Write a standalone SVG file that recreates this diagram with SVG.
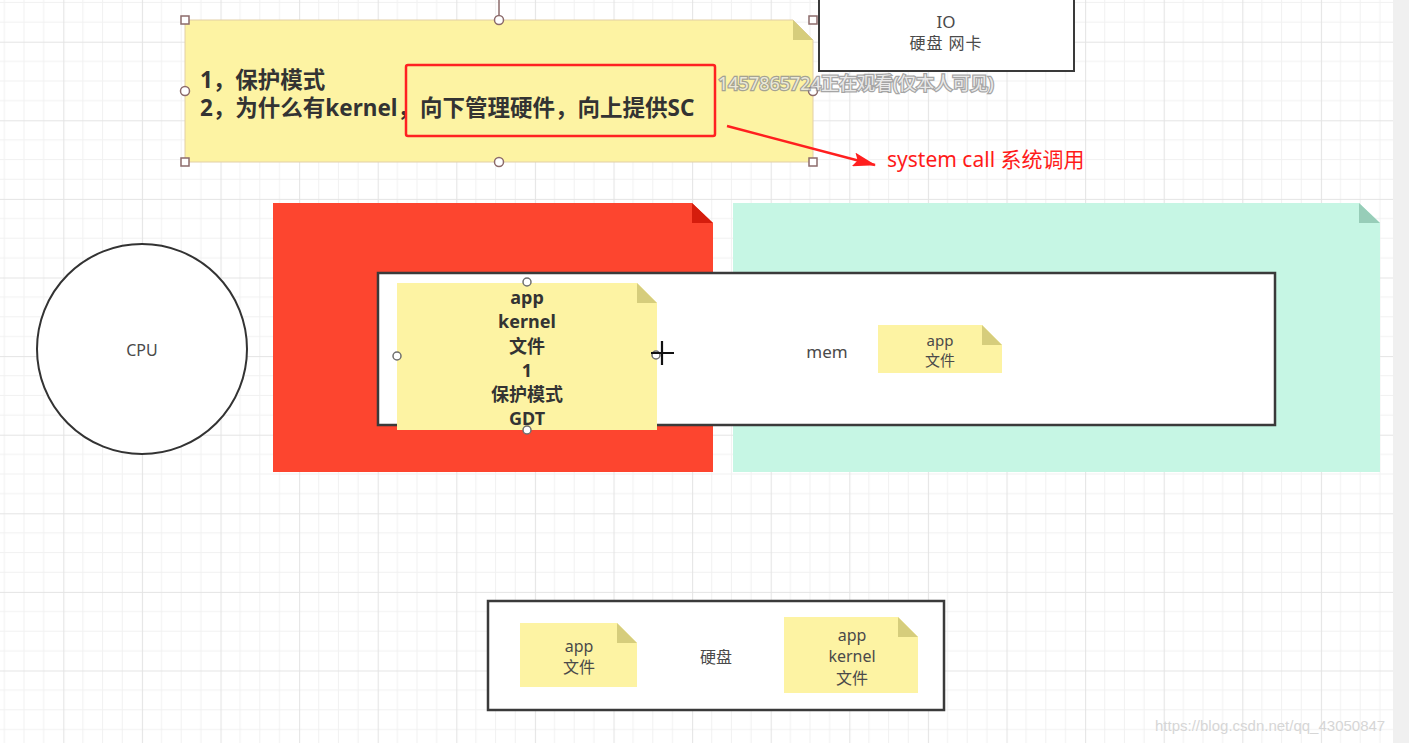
<svg xmlns="http://www.w3.org/2000/svg" width="1409" height="743" viewBox="0 0 1409 743">
<style>
.t{font-family:"Noto Sans","Noto Sans CJK SC",sans-serif;dominant-baseline:central}
.c{text-anchor:middle}
.b{font-weight:bold;fill:#333}
.g{fill:#4a4a4a}
.note{fill:#fdf3a3}
.fold{fill:#d6cd7c}
.box{fill:#fff;stroke:#3a3a3a;stroke-width:2.5}
.h{fill:#fff;stroke:#8c6b6b;stroke-width:1.5}
.hc{fill:#fff;stroke:#6e6e6e;stroke-width:1.5}
</style>
<defs>
<pattern id="grid" x="-15.3" y="41.7" width="78.6" height="78.6" patternUnits="userSpaceOnUse">
<path d="M19.65,0V78.6M39.3,0V78.6M58.95,0V78.6M0,19.65H78.6M0,39.3H78.6M0,58.95H78.6" stroke="#f1f1f1" stroke-width="1" fill="none"/>
<path d="M0.5,0V78.6M0,0.5H78.6" stroke="#e4e4e4" stroke-width="1.2" fill="none"/>
</pattern>
<marker id="ah" markerWidth="24" markerHeight="14" refX="22" refY="7" orient="auto" markerUnits="userSpaceOnUse">
<path d="M0,0 L23,7 L0,14 L4,7 Z" fill="#ff1f1f"/>
</marker>
</defs>
<rect width="1409" height="743" fill="#fff"/>
<rect width="1393" height="743" fill="url(#grid)"/>
<rect x="1393" y="0" width="16" height="743" fill="#f0f0f0"/>

<g id="cpu">
<circle cx="142" cy="349" r="105" fill="#fff" stroke="#333" stroke-width="2"/>
<text class="t c g" x="142" y="350" font-size="16">CPU</text>
</g>

<g id="kernel-area">
<path d="M273,203H692L713,223V472H273Z" fill="#fd452f"/>
<path d="M692,203L713,223H692Z" fill="#d51d0d"/>
</g>

<g id="user-area">
<path d="M733,203H1359L1380,223V472H733Z" fill="#c6f6e4"/>
<path d="M1359,203L1380,223H1359Z" fill="#97cdb8"/>
</g>

<g id="mem">
<rect class="box" x="378" y="273" width="897" height="152"/>
<text class="t c g" x="827" y="351" font-size="17">mem</text>
</g>

<g id="mem-app">
<path class="note" d="M878,325H982L1002,345V373H878Z"/>
<path class="fold" d="M982,325L1002,345H982Z"/>
<text class="t c g" x="940" y="340" font-size="15">app</text>
<text class="t c g" x="940" y="360" font-size="15">文件</text>
</g>

<g id="mem-kernel">
<path class="note" d="M397,283H637L657,303V430H397Z"/>
<path class="fold" d="M637,283L657,303H637Z"/>
<text class="t c b" x="527" y="297" font-size="18">app</text>
<text class="t c b" x="527" y="321" font-size="18">kernel</text>
<text class="t c b" x="527" y="346" font-size="18">文件</text>
<text class="t c b" x="527" y="370" font-size="18">1</text>
<text class="t c b" x="527" y="394" font-size="18">保护模式</text>
<text class="t c b" x="527" y="418" font-size="18">GDT</text>
<circle class="hc" cx="527" cy="282" r="4"/>
<circle class="hc" cx="397" cy="356" r="4"/>
<circle class="hc" cx="656" cy="355" r="4"/>
<circle class="hc" cx="527" cy="430" r="4"/>
<path d="M651,353H674M662,341V365" stroke="#111" stroke-width="2.2" fill="none"/>
</g>

<g id="disk">
<rect class="box" x="488" y="601" width="456" height="109"/>
<text class="t c g" x="716" y="657" font-size="16">硬盘</text>
</g>

<g id="disk-app">
<path class="note" d="M520,623H617L637,643V687H520Z"/>
<path class="fold" d="M617,623L637,643H617Z"/>
<text class="t c g" x="579" y="646" font-size="16">app</text>
<text class="t c g" x="579" y="667" font-size="16">文件</text>
</g>

<g id="disk-kernel">
<path class="note" d="M784,617H898L918,637V693H784Z"/>
<path class="fold" d="M898,617L918,637H898Z"/>
<text class="t c g" x="852" y="635" font-size="16">app</text>
<text class="t c g" x="852" y="656" font-size="16">kernel</text>
<text class="t c g" x="852" y="678" font-size="16">文件</text>
</g>

<g id="io">
<rect x="819" y="-4" width="255" height="75" fill="#fff" stroke="#3a3a3a" stroke-width="2"/>
<text class="t c g" x="946" y="21" font-size="17">IO</text>
<text class="t c g" x="946" y="43" font-size="16" letter-spacing="1">硬盘 网卡</text>
</g>

<g id="question-note">
<path class="note" d="M185,20H793L813,40V162H185Z" stroke="#e2cfa6" stroke-width="1"/>
<path class="fold" d="M793,20L813,40H793Z"/>
<text class="t b" x="200" y="79" font-size="22.5">1，保护模式</text>
<text class="t b" x="200" y="107" font-size="22.5">2，为什么有kernel，向下管理硬件，向上提供SC</text>
<line x1="499" y1="0" x2="499" y2="16" stroke="#8c6b6b" stroke-width="1.5"/>
<rect class="h" x="181" y="16" width="8" height="8"/>
<rect class="h" x="809" y="16" width="8" height="8"/>
<rect class="h" x="181" y="158" width="8" height="8"/>
<rect class="h" x="809" y="158" width="8" height="8"/>
<circle class="h" cx="499" cy="20" r="4.5"/>
<circle class="h" cx="185" cy="91" r="4.5"/>
<circle class="h" cx="813" cy="91" r="4.5"/>
<circle class="h" cx="499" cy="162" r="4.5"/>
</g>

<g id="highlight">
<rect x="406" y="65" width="309" height="71" rx="2" fill="none" stroke="#ff2121" stroke-width="2.5"/>
</g>

<g id="connectors">
<line x1="727" y1="126" x2="875" y2="165" stroke="#ff1f1f" stroke-width="2.5" marker-end="url(#ah)"/>
</g>

<g id="syscall-label">
<text class="t" x="887" y="159" font-size="21" fill="#ff1a1a">system call 系统调用</text>
</g>

<g id="watermarks">
<text class="t" x="718" y="83" font-size="18" fill="#e6e6e6" stroke="#8f8f8f" stroke-width="2.5" paint-order="stroke" opacity="0.8">1457865724正在观看(仅本人可见)</text>
<text x="1155" y="725" font-family="Liberation Sans, Arial, sans-serif" font-size="15" fill="#d6d6d6" dominant-baseline="central">https://blog.csdn.net/qq_43050847</text>
</g>
</svg>
